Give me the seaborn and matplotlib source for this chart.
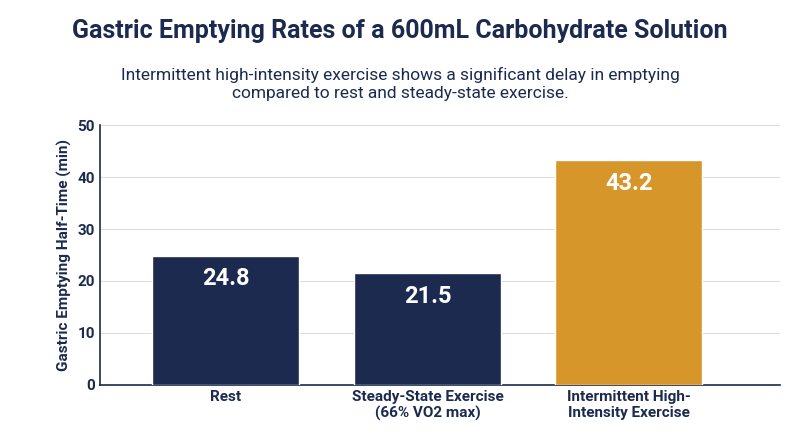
import pandas as pd
import seaborn as sns
import matplotlib.pyplot as plt

conditions = ["Rest", "Steady-State Exercise\n(66% VO2 max)", "Intermittent High-\nIntensity Exercise"]
half_times = [24.8, 21.5, 43.2]
bar_colors = ["#1b2a4e", "#1b2a4e", "#d6962a"]

df = pd.DataFrame({"Condition": conditions, "HalfTime": half_times})

sns.set_theme(style="white")
plt.rcParams['font.family'] = ['Roboto', 'DejaVu Sans']

fig = plt.figure(figsize=(8, 4.47), dpi=100)
ax = fig.add_axes([0.125, 0.139, 0.85, 0.581])

sns.barplot(data=df, x="Condition", y="HalfTime", hue="Condition", palette=bar_colors,
            legend=False, width=0.73, saturation=1, ax=ax, zorder=3)

for i, v in enumerate(half_times):
    ax.text(i, v - 2.2, f"{v}", ha="center", va="top", color="white",
            fontsize=17, fontweight="bold", zorder=4)

ax.set_ylim(0, 50)
ax.set_xlim(-0.625, 2.75)
ax.set_yticks(range(0, 51, 10))
ax.yaxis.grid(True, color="#dddddd", linewidth=0.8, zorder=0)
ax.set_xlabel("")
ax.set_ylabel("Gastric Emptying Half-Time (min)", fontsize=11, fontweight="bold", color="#1b2a4e")
ax.tick_params(axis="both", labelsize=11, colors="#1b2a4e", length=0)
for lbl in ax.get_xticklabels() + ax.get_yticklabels():
    lbl.set_fontweight("bold")
for s in ["top", "right"]:
    ax.spines[s].set_visible(False)
for s in ["left", "bottom"]:
    ax.spines[s].set_color("#1b2a4e")
    ax.spines[s].set_linewidth(1.2)

fig.text(0.5, 0.915, "Gastric Emptying Rates of a 600mL Carbohydrate Solution",
         ha="center", fontsize=18, fontweight="bold", color="#1b2a4e")
fig.text(0.5, 0.78, "Intermittent high-intensity exercise shows a significant delay in emptying\ncompared to rest and steady-state exercise.",
         ha="center", fontsize=12.5, color="#1b2a4e", linespacing=1.3)

fig.savefig("out.png", dpi=100)
